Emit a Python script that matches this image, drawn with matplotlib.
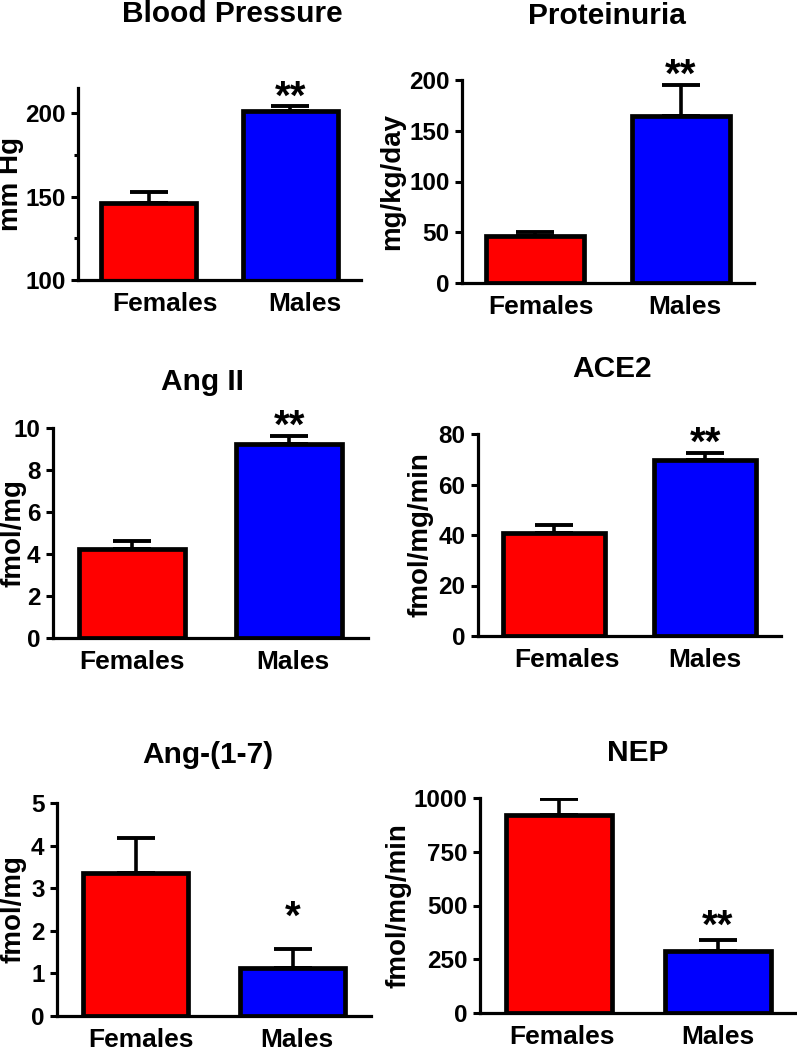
import matplotlib
matplotlib.use("Agg")
import matplotlib.pyplot as plt
from matplotlib.ticker import FixedLocator

plt.rcParams["font.family"] = ["Liberation Sans", "DejaVu Sans"]
plt.rcParams["font.weight"] = "bold"

# data (mean, upper SEM)
groups = ["Females", "Males"]
bar_colors = ["#ff0000", "#0000ff"]

bp_mean = [146, 201]
bp_err = [7, 3]
bp_sig = ["", "**"]

prot_mean = [46, 165]
prot_err = [4, 30]
prot_sig = ["", "**"]

ang2_mean = [4.25, 9.22]
ang2_err = [0.35, 0.40]
ang2_sig = ["", "**"]

ace2_mean = [40.8, 69.7]
ace2_err = [3.2, 2.8]
ace2_sig = ["", "**"]

ang17_mean = [3.35, 1.12]
ang17_err = [0.82, 0.46]
ang17_sig = ["", "*"]

nep_mean = [921, 290]
nep_err = [74, 50]
nep_sig = ["", "**"]

W, H = 797, 1048

# layout in pixels: axes left/right/bottom/top, title centre, ylabel centre x,
# star offset above the cap, x-label nudges
PANELS = [
    dict(title="Blood Pressure", ylabel="mm Hg", mean=bp_mean, err=bp_err, sig=bp_sig,
         ylim=(100, 215), yticks=[100, 150, 200], minor=[125, 175],
         box=(78, 361, 280, 88), tpos=(232, 14), ylx=11, star_off=-2, nudge=(16, 15)),
    dict(title="Proteinuria", ylabel="mg/kg/day", mean=prot_mean, err=prot_err, sig=prot_sig,
         ylim=(0, 200), yticks=[0, 50, 100, 150, 200], minor=[],
         box=(462, 754, 283, 80), tpos=(607, 16), ylx=392, star_off=-2, nudge=(6, 4)),
    dict(title="Ang II", ylabel="fmol/mg", mean=ang2_mean, err=ang2_err, sig=ang2_sig,
         ylim=(0, 10), yticks=[0, 2, 4, 6, 8, 10], minor=[],
         box=(53, 368, 638, 428), tpos=(202, 382), ylx=14, star_off=-2, nudge=(0, 4)),
    dict(title="ACE2", ylabel="fmol/mg/min", mean=ace2_mean, err=ace2_err, sig=ace2_sig,
         ylim=(0, 80), yticks=[0, 20, 40, 60, 80], minor=[],
         box=(478, 781, 636, 434), tpos=(612, 369), ylx=421, star_off=-2, nudge=(13, 0)),
    dict(title="Ang-(1-7)", ylabel="fmol/mg", mean=ang17_mean, err=ang17_err, sig=ang17_sig,
         ylim=(0, 5), yticks=[0, 1, 2, 3, 4, 5], minor=[],
         box=(57, 371, 1016, 803), tpos=(208, 755), ylx=14, star_off=20, nudge=(5, 4)),
    dict(title="NEP", ylabel="fmol/mg/min", mean=nep_mean, err=nep_err, sig=nep_sig,
         ylim=(0, 1000), yticks=[0, 250, 500, 750, 1000], minor=[],
         box=(480, 797, 1013, 798), tpos=(638, 753), ylx=398, star_off=2, nudge=(3, 0)),
]

fig = plt.figure(figsize=(W / 100, H / 100), dpi=100)

for p in PANELS:
    l, r, b, t = p["box"]
    ax = fig.add_axes([l / W, 1 - b / H, (r - l) / W, (b - t) / H])
    x = [0, 1]
    ax.bar(x, p["mean"], width=0.67, color=bar_colors, edgecolor="black",
           linewidth=3.4, zorder=2)
    ax.errorbar(x, p["mean"], yerr=[[0, 0], p["err"]], fmt="none", ecolor="black",
                elinewidth=2.6, capsize=13.5, capthick=2.8, zorder=1)
    for xi, m, e, s in zip(x, p["mean"], p["err"], p["sig"]):
        if s:
            ax.annotate(s, xy=(xi, m + e), xytext=(0, p["star_off"]),
                        textcoords="offset pixels", ha="center", va="baseline",
                        fontsize=29, fontweight="bold")
    ax.set_xlim(-0.5, 1.5)
    ax.set_ylim(*p["ylim"])
    ax.set_yticks(p["yticks"])
    if p["minor"]:
        ax.yaxis.set_minor_locator(FixedLocator(p["minor"]))
    ax.set_xticks(x)
    ax.tick_params(axis="x", length=0, pad=9)
    ax.tick_params(axis="y", which="major", length=5, width=2.2, pad=4, labelsize=17.5)
    ax.tick_params(axis="y", which="minor", length=3, width=2.2)
    ax.set_xticklabels([])
    for sp in ("top", "right"):
        ax.spines[sp].set_visible(False)
    for sp in ("left", "bottom"):
        ax.spines[sp].set_linewidth(2.3)
    ax.patch.set_visible(False)
    for lab in ax.get_yticklabels():
        lab.set_fontweight("bold")

    # group names as text under the bars, slightly shifted like the original
    for xi, g, dx in zip(x, groups, p["nudge"]):
        ax.annotate(g, xy=(xi, 0), xycoords=("data", "axes fraction"),
                    xytext=(dx, -12), textcoords="offset pixels",
                    ha="center", va="top", fontsize=19, fontweight="bold")

    fig.text(p["tpos"][0] / W, 1 - p["tpos"][1] / H, p["title"], ha="center", va="center",
             fontsize=21.5, fontweight="bold")
    fig.text(p["ylx"] / W, 1 - ((b + t) / 2) / H, p["ylabel"], ha="center", va="center",
             rotation=90, fontsize=20, fontweight="bold")

fig.savefig("out.png", dpi=100)
